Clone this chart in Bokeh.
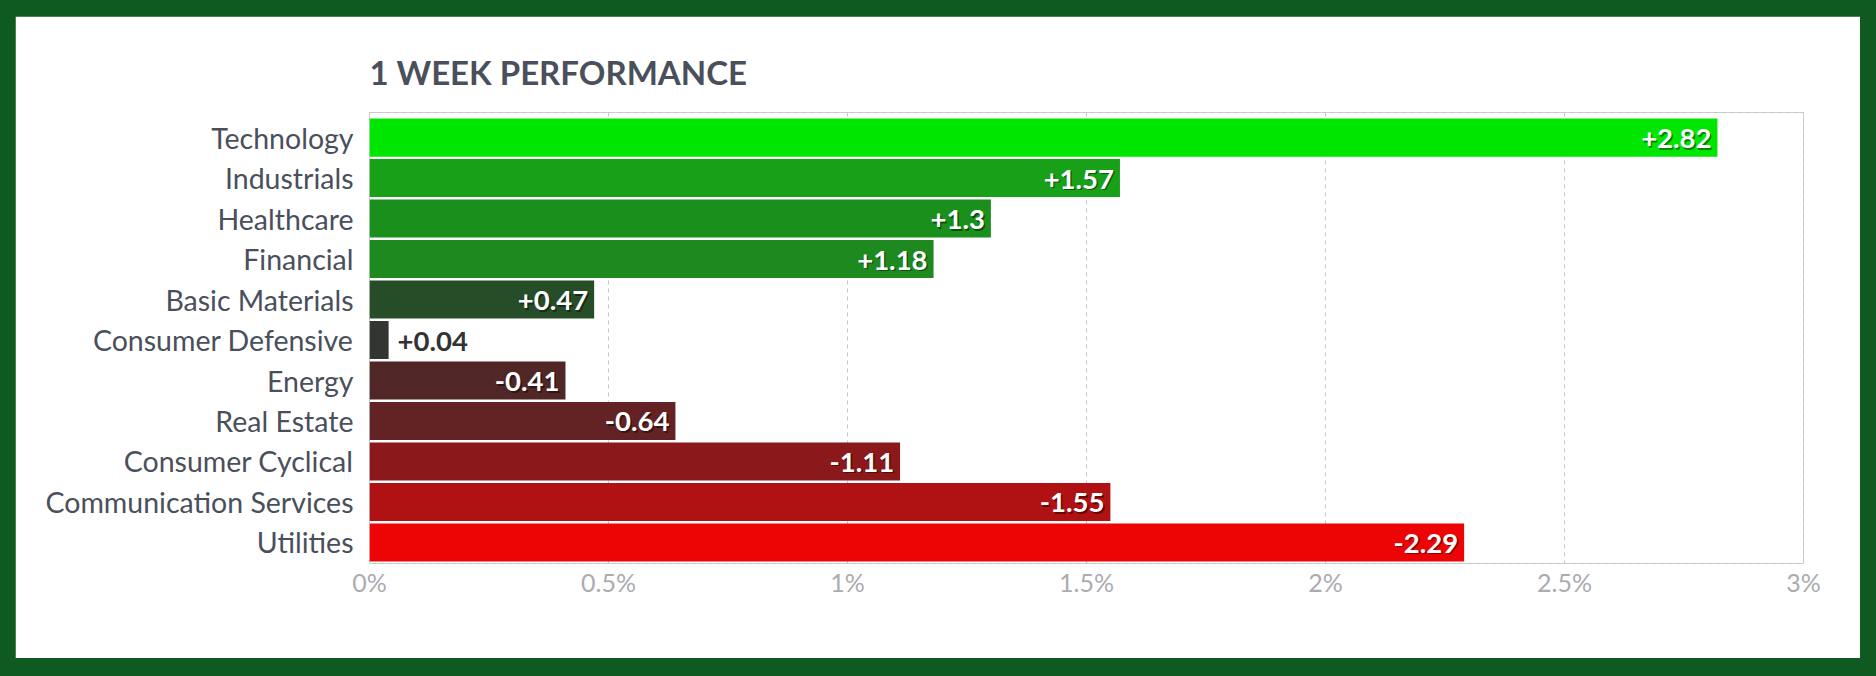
from bokeh.plotting import figure
from bokeh.models import ColumnDataSource, FixedTicker, Range1d
from bokeh.core.properties import value
from bokeh.embed import file_html
from bokeh.resources import INLINE

# ---- data ----
sectors = ["Technology", "Industrials", "Healthcare", "Financial", "Basic Materials",
           "Consumer Defensive", "Energy", "Real Estate", "Consumer Cyclical",
           "Communication Services", "Utilities"]
performance = [2.82, 1.57, 1.3, 1.18, 0.47, 0.04, -0.41, -0.64, -1.11, -1.55, -2.29]
bar_colors = ["#00e600", "#18a019", "#1b8f1c", "#1e891f", "#264d27", "#333533",
              "#512627", "#632223", "#8b181a", "#b01113", "#ed0405"]
x_ticks = [0, 0.5, 1, 1.5, 2, 2.5, 3]
x_tick_labels = ["0%", "0.5%", "1%", "1.5%", "2%", "2.5%", "3%"]
title_text = "1 WEEK PERFORMANCE"

FONT = "Lato"
TEXT_COLOR = "#4a4f5c"
GRID_COLOR = "#c6c6ca"
BORDER_GREEN = "#0f5a20"

idx = list(range(len(sectors)))
lengths = [abs(v) for v in performance]
labels = [f"{v:+g}" for v in performance]
inside = [abs(v) >= 0.2 for v in performance]

src = ColumnDataSource(dict(y=idx, val=lengths, color=bar_colors))
src_in = ColumnDataSource(dict(
    y=[i for i, k in zip(idx, inside) if k],
    x=[l for l, k in zip(lengths, inside) if k],
    t=[t for t, k in zip(labels, inside) if k]))
src_out = ColumnDataSource(dict(
    y=[i for i, k in zip(idx, inside) if not k],
    x=[l for l, k in zip(lengths, inside) if not k],
    t=[t for t, k in zip(labels, inside) if not k]))

p = figure(width=1845, height=642, output_backend="svg", toolbar_location=None,
           x_range=Range1d(0, 3), y_range=Range1d(len(sectors) - 0.48, -0.62),
           min_border_left=354, min_border_right=57, min_border_top=96,
           min_border_bottom=95, background_fill_color="white",
           border_fill_color="white")
p.margin = (16, 0, 0, 15)

p.title.text = title_text
p.title.text_font = FONT
p.title.text_font_style = "bold"
p.title.text_font_size = "33px"
p.title.text_color = TEXT_COLOR
p.title.align = "left"
p.title.standoff = 41

p.hbar(y="y", left=0, right="val", height=0.94, fill_color="color",
       line_color=None, source=src)

LBL_SIZE = "27.5px"
# inside labels with shadow
p.text(x="x", y="y", text="t", source=src_in, text_align="right",
       text_baseline="middle", x_offset=-4.5, y_offset=2.5,
       text_font=value(FONT), text_font_style="bold", text_font_size=LBL_SIZE,
       text_color="black", text_alpha=0.45)
p.text(x="x", y="y", text="t", source=src_in, text_align="right",
       text_baseline="middle", x_offset=-6, y_offset=1,
       text_font=value(FONT), text_font_style="bold", text_font_size=LBL_SIZE,
       text_color="white")
# outside labels
p.text(x="x", y="y", text="t", source=src_out, text_align="left",
       text_baseline="middle", x_offset=9, y_offset=1,
       text_font=value(FONT), text_font_style="bold", text_font_size=LBL_SIZE,
       text_color="#333333")

# axes
p.yaxis.ticker = FixedTicker(ticks=idx)
p.yaxis.major_label_overrides = {i: s for i, s in zip(idx, sectors)}
p.yaxis.axis_line_color = None
p.yaxis.major_tick_line_color = None
p.yaxis.minor_tick_line_color = None
p.yaxis.major_tick_out = 0
p.yaxis.major_tick_in = 0
p.yaxis.major_label_standoff = 16
p.yaxis.major_label_text_font = FONT
p.yaxis.major_label_text_font_size = "28.5px"
p.yaxis.major_label_text_color = TEXT_COLOR

p.xaxis.ticker = FixedTicker(ticks=x_ticks)
p.xaxis.major_label_overrides = {t: s for t, s in zip(x_ticks, x_tick_labels)}
p.xaxis.axis_line_color = None
p.xaxis.major_tick_line_color = None
p.xaxis.minor_tick_line_color = None
p.xaxis.major_tick_out = 0
p.xaxis.major_tick_in = 0
p.xaxis.major_label_standoff = 3
p.xaxis.major_label_text_font = FONT
p.xaxis.major_label_text_font_size = "25px"
p.xaxis.major_label_text_color = "#ababb0"

p.ygrid.grid_line_color = None
p.xgrid.grid_line_color = GRID_COLOR
p.xgrid.grid_line_dash = "4 4"
p.xgrid.grid_line_width = 1
p.outline_line_color = GRID_COLOR
p.outline_line_dash = "4 4"
p.outline_line_width = 1

html = file_html(p, INLINE)
html = html.replace("</head>",
                    "<style>html, body { background: %s; }</style></head>" % BORDER_GREEN, 1)
open("out.html", "w").write(html)
